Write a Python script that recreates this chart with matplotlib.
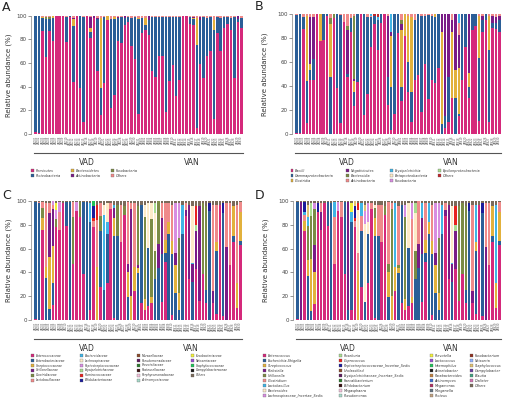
import numpy as np
import matplotlib
matplotlib.use("Agg")
import matplotlib.pyplot as plt
from matplotlib.patches import Rectangle

W, H = 507, 400

# samples
n_vad = 31
n_van = 30
samples = [f"VAD{i+1:02d}" for i in range(n_vad)] + [f"VAN{i+1:02d}" for i in range(n_van)]
N = len(samples)

# shared palette (legend order)
pal = ['#d5297b', '#2b5e97', '#e2b13c', '#7a1c86', '#7b8b45', '#ef8a8a', '#40b4e5',
       '#fdebc8', '#d88ee0', '#a9dc90', '#e8231f', '#1b1b9b', '#8b4a2b', '#5d1a5d',
       '#2d7a2d', '#3a1010', '#f1c0d8', '#a6d8c8', '#f3f03a', '#9a4ad0', '#21c25a',
       '#1a1a1a', '#c08040', '#3a6ad0', '#b03060', '#607080', '#c0a080', '#903020',
       '#8fb0ff', '#e0c070', '#6b3fa0', '#40a080', '#d070b0', '#7a6a5a']

# ---- Panel A: phylum ----
A_names = ["Firmicutes", "Proteobacteria", "Bacteroidetes", "Actinobacteria", "Fusobacteria", "Others"]
A_firm = [2, 1, 87, 65, 87, 79, 100, 100, 100, 78, 99, 44, 100, 39, 10, 100, 81, 98, 53, 16,
          43, 96, 22, 33, 79, 77, 92, 95, 74, 63, 17,
          85, 88, 84, 53, 48, 66, 66, 19, 45, 58, 32, 46, 100, 100, 93, 92, 5, 59, 47,
          66, 70, 13, 85, 70, 90, 93, 88, 47, 95, 90]
A_prot = [98, 99, 11, 32, 10, 19, 0, 0, 0, 21, 1, 47, 0, 61, 89, 0, 5, 0, 44, 23,
          56, 0, 75, 64, 19, 22, 6, 4, 24, 36, 80,
          13, 4, 12, 46, 51, 33, 33, 80, 54, 41, 67, 53, 0, 0, 6, 5, 70, 37, 52,
          32, 29, 75, 14, 28, 9, 6, 10, 52, 2, 8]
A_bact = [0, 0, 1, 0, 0, 2, 0, 0, 0, 0, 0, 6, 0, 0, 0, 0, 4, 0, 0, 59,
          0, 4, 0, 2, 0, 0, 0, 0, 0, 0, 1,
          0, 6, 0, 0, 0, 0, 0, 0, 0, 0, 0, 0, 0, 0, 0, 1, 23, 0, 0,
          0, 0, 8, 0, 0, 0, 0, 0, 0, 0, 0]
A_acti = [0, 0, 0, 0, 0, 0, 0, 0, 0, 0, 0, 1, 0, 0, 0, 0, 9, 2, 1, 0,
          0, 0, 0, 0, 1, 0, 2, 0, 0, 0, 0,
          0, 0, 4, 0, 0, 0, 0, 0, 0, 0, 0, 0, 0, 0, 0, 1, 0, 3, 0,
          0, 0, 0, 0, 0, 0, 0, 0, 0, 3, 0]
A_fuso = [0, 0, 0, 2, 2, 0, 0, 0, 0, 0, 0, 0, 0, 0, 0, 0, 0, 0, 0, 0,
          0, 0, 0, 0, 0, 0, 0, 0, 0, 0, 0,
          0, 0, 0, 0, 0, 0, 0, 0, 0, 0, 0, 0, 0, 0, 0, 0, 0, 0, 0,
          0, 0, 0, 0, 0, 0, 0, 0, 0, 0, 0]
A_oth = [0, 0, 1, 1, 1, 0, 0, 0, 0, 1, 0, 2, 0, 0, 1, 0, 1, 0, 2, 2,
         1, 0, 3, 1, 1, 1, 0, 1, 2, 1, 2,
         2, 2, 0, 1, 1, 1, 1, 1, 1, 1, 1, 1, 0, 0, 1, 1, 2, 1, 1,
         2, 1, 4, 1, 2, 1, 1, 2, 1, 0, 2]

# ---- Panel B: class ----
B_names = ["Bacilli", "Gammaproteobacteria", "Clostridia", "Negativicutes", "Bacteroidia",
           "Actinobacteria", "Erysipelotrichia", "Betaproteobacteria", "Fusobacteria",
           "Epsilonproteobacteria", "Others"]
B_bac = [1, 1, 87, 9, 45, 45, 100, 77, 78, 98, 0, 96, 38, 9, 93, 47, 85, 23, 43, 100,
         16, 33, 72, 91, 70, 92, 100, 24, 3, 17, 84,
         27, 81, 35, 10, 45, 49, 18, 58, 29, 45, 42, 55, 0, 5, 10, 30, 0, 15, 45,
         72, 30, 86, 90, 11, 85, 95, 10, 88, 87, 85]
B_gam = [98, 99, 10, 35, 8, 17, 0, 0, 22, 2, 47, 0, 62, 90, 0, 3, 11, 12, 57, 0,
         84, 64, 25, 7, 25, 8, 0, 23, 36, 83, 16,
         12, 0, 25, 25, 50, 51, 80, 40, 70, 53, 55, 45, 8, 10, 37, 0, 30, 2, 55,
         28, 9, 14, 10, 52, 10, 5, 60, 4, 5, 10]
B_clo = [0, 0, 0, 54, 5, 0, 0, 23, 0, 0, 44, 0, 0, 0, 0, 0, 0, 9, 0, 0,
         0, 0, 0, 0, 0, 0, 0, 0, 42, 0, 0,
         47, 19, 38, 62, 0, 0, 0, 0, 0, 0, 3, 0, 77, 0, 0, 55, 23, 38, 0,
         0, 12, 0, 0, 35, 0, 0, 28, 0, 0, 0]
B_neg = [0, 0, 0, 0, 39, 35, 0, 0, 0, 0, 0, 0, 0, 0, 0, 36, 0, 2, 0, 0,
         0, 0, 0, 0, 0, 0, 0, 51, 4, 0, 0,
         5, 0, 0, 0, 0, 0, 0, 0, 0, 0, 0, 0, 15, 85, 53, 10, 47, 27, 0,
         0, 49, 0, 0, 0, 3, 0, 0, 6, 5, 3]
B_bcd = [0, 0, 0, 0, 0, 0, 0, 0, 0, 0, 5, 4, 0, 0, 0, 4, 0, 52, 0, 0,
         0, 0, 0, 0, 0, 0, 0, 0, 0, 0, 0,
         4, 0, 0, 0, 0, 0, 0, 0, 0, 0, 0, 0, 0, 0, 0, 0, 0, 0, 0,
         0, 0, 0, 0, 0, 0, 0, 0, 0, 0, 0]
B_act = [1, 0, 3, 2, 3, 3, 0, 0, 0, 0, 4, 0, 0, 1, 7, 10, 4, 2, 0, 0,
         0, 3, 1, 0, 0, 0, 0, 2, 0, 0, 0,
         5, 0, 2, 3, 5, 0, 2, 2, 1, 2, 0, 0, 0, 0, 0, 5, 0, 10, 0,
         0, 0, 0, 0, 2, 2, 0, 2, 2, 3, 2]
B_ery = {23: 2, 25: 2, 29: 15, 49: 8}
B_oth = {24: 2, 25: 3}

# ---- Panel C: family (sample number -> %) ----
C_names = ["Enterococcaceae", "Enterobacteriaceae", "Streptococcaceae", "Veillonellaceae",
           "Clostridiaceae", "Lactobacillaceae", "Bacteroidaceae", "Lachnospiraceae",
           "Peptostreptococcaceae", "Erysipelotrichaceae", "Ruminococcaceae", "Bifidobacteriaceae",
           "Moraxellaceae", "Pseudomonadaceae", "Prevotellaceae", "Pasteurellaceae",
           "Porphyromonadaceae", "Actinomycetaceae", "Fusobacteriaceae", "Neisseriaceae",
           "Staphylococcaceae", "Campylobacteraceae", "Others"]
C_ent = {1: 1, 3: 75, 6: 13, 7: 76, 8: 75, 9: 94, 10: 78, 12: 47, 13: 91, 14: 86, 15: 38, 17: 8,
         18: 78, 20: 27, 22: 30, 23: 92, 24: 2, 26: 62, 27: 83, 30: 24, 32: 14, 33: 8, 34: 12,
         35: 14, 38: 15, 39: 47, 41: 4, 45: 85, 46: 33, 48: 40, 49: 15, 50: 38, 51: 13, 53: 14,
         54: 5, 55: 92, 56: 3, 58: 45, 59: 62, 60: 10, 61: 62}
C_enb = {1: 98, 2: 98, 4: 35, 5: 9, 6: 18, 10: 20, 11: 99, 15: 60, 16: 99, 17: 72, 20: 46,
         21: 24, 22: 40, 24: 66, 25: 67, 28: 19, 31: 36, 32: 80, 34: 48, 36: 34, 37: 44,
         38: 40, 39: 8, 40: 70, 41: 50, 42: 22, 43: 8, 44: 70, 47: 30, 51: 10, 52: 90, 54: 51,
         56: 85, 59: 4, 61: 4}
C_str = {3: 10, 4: 9, 5: 43, 6: 31, 19: 42, 24: 14, 28: 21, 29: 20, 30: 20, 31: 4, 33: 9,
         35: 5, 39: 10, 40: 10, 41: 10, 42: 23, 43: 14, 54: 7, 59: 24, 60: 20, 61: 24}
C_vei = {5: 37, 6: 31, 24: 8, 28: 7, 29: 72, 31: 2, 37: 20, 38: 30, 42: 10, 45: 5, 46: 60,
         47: 14, 48: 30, 49: 75, 53: 10, 57: 60}
C_clo = {3: 8, 7: 6, 12: 39, 14: 12, 20: 13, 25: 25, 27: 7, 31: 45, 33: 65, 35: 63, 36: 23,
         37: 36, 43: 45, 50: 58, 51: 65}
C_lac = {2: 1, 3: 5, 4: 53, 5: 8, 6: 4, 8: 15, 12: 12, 18: 5, 19: 38, 20: 10, 23: 5, 26: 30,
         28: 51, 29: 5, 30: 52, 38: 12, 39: 30, 40: 15, 41: 30, 45: 5, 53: 70, 54: 30, 57: 36,
         58: 50, 60: 64, 61: 8}
C_bcd = {17: 15, 21: 61, 22: 10, 24: 3, 44: 24, 47: 1}
C_lach = {21: 8, 22: 15, 33: 10, 34: 37, 35: 13, 36: 31, 47: 45}
C_pep = {6: 3, 7: 8, 8: 8, 13: 7, 42: 40, 43: 28}
C_ery = {36: 8, 48: 5}
C_rum = {18: 3, 19: 12, 48: 15}
C_bif = {18: 10, 52: 6, 56: 8}
C_fus = {7: 5}
C_sta = {18: 4}
C_oth = {1: 1, 2: 1, 3: 1, 4: 2, 5: 2, 7: 2, 8: 1, 9: 2, 10: 1, 11: 1, 12: 1, 13: 1, 14: 1,
         15: 1, 16: 1, 17: 2, 19: 3, 20: 2, 21: 3, 22: 2, 23: 2, 24: 3, 25: 3, 26: 3, 27: 4,
         28: 1, 29: 2, 30: 2, 31: 4, 32: 3, 33: 3, 34: 2, 35: 2, 36: 2, 38: 2, 39: 2, 40: 2,
         41: 3, 42: 2, 43: 2, 44: 3, 45: 2, 46: 3, 47: 4, 48: 4, 49: 4, 50: 2, 51: 4,
         52: 2, 53: 3, 54: 3, 55: 3, 56: 2, 57: 2, 58: 2, 59: 4, 60: 3, 61: 1}

# ---- Panel D: genus ----
D_names = ["Enterococcus", "Escherichia-Shigella", "Streptococcus", "Klebsiella", "Veillonella",
           "Clostridium", "Lactobacillus", "Bacteroides", "Lachnospiraceae_Incertae_Sedis",
           "Roseburia", "Coprococcus", "Peptostreptococcaceae_Incertae_Sedis", "Unclassified",
           "Erysipelotrichaceae_Incertae_Sedis", "Faecalibacterium", "Bifidobacterium",
           "Megasphaera", "Pseudomonas", "Prevotella", "Lactococcus", "Haemophilus",
           "Acinetobacter", "Parabacteroides", "Actinomyces", "Megamonas", "Morganella",
           "Proteus", "Fusobacterium", "Neisseria", "Staphylococcus", "Campylobacter",
           "Blautia", "Dialister", "Others"]
D_ent = {1: 1, 3: 74, 6: 13, 7: 90, 8: 75, 9: 94, 10: 78, 12: 47, 13: 91, 14: 86, 15: 38, 17: 8,
         18: 78, 20: 27, 22: 30, 23: 92, 24: 2, 26: 62, 27: 83, 30: 24, 32: 14, 33: 8, 34: 12,
         35: 14, 38: 15, 39: 47, 41: 4, 45: 85, 46: 33, 48: 40, 49: 15, 50: 38, 51: 13, 53: 14,
         54: 5, 55: 92, 56: 3, 58: 45, 59: 62, 60: 10, 61: 62}
D_esc = {1: 98, 4: 35, 5: 7, 10: 20, 11: 97, 15: 60, 16: 8, 17: 72, 20: 46, 21: 14, 22: 40,
         24: 66, 25: 67, 28: 19, 31: 36, 32: 80, 34: 48, 36: 34, 37: 44, 38: 40, 39: 8, 40: 70,
         41: 50, 42: 22, 43: 8, 44: 70, 47: 30, 51: 10, 52: 90, 54: 51, 56: 85, 59: 4, 61: 4}
D_str = {3: 8, 4: 13, 5: 43, 6: 27, 19: 40, 24: 14, 28: 21, 29: 20, 30: 20, 31: 4, 33: 9,
         35: 5, 39: 10, 40: 10, 41: 10, 42: 23, 43: 14, 54: 7, 59: 24, 60: 20, 61: 24}
D_kle = {2: 99, 6: 22, 8: 15, 16: 90, 37: 20, 38: 30, 42: 10, 45: 5, 46: 60, 47: 14, 48: 30,
         53: 10, 57: 60}
D_vei = {4: 27, 5: 35, 6: 30, 24: 8, 27: 7, 28: 7, 29: 72, 31: 2, 33: 65, 36: 23, 43: 45,
         49: 75, 50: 58, 51: 65}
D_clo = {3: 5, 8: 7, 12: 39, 14: 12, 18: 5, 19: 15, 20: 13, 23: 5, 25: 25, 26: 30, 28: 51,
         29: 5, 31: 45, 35: 63, 37: 36, 39: 30, 41: 30, 45: 5, 53: 70, 57: 36, 58: 50, 61: 8}
D_lac = {3: 3, 4: 7, 12: 12, 17: 8, 20: 10, 30: 52, 38: 12, 40: 15, 44: 24, 47: 1, 54: 30, 60: 64}
D_bac = {19: 35, 21: 61, 22: 10, 24: 3, 34: 37, 36: 31, 47: 45}
D_lis = {6: 5, 13: 7, 21: 10, 22: 15, 33: 10, 35: 13, 42: 40, 43: 28}
D_ros = {5: 10, 36: 8, 48: 5}
D_cop = {18: 3, 19: 5, 48: 15}
D_pis = {3: 8, 7: 7, 18: 10, 52: 6, 56: 8}
D_pre = {17: 7}
D_sta = {4: 10, 18: 4, 21: 5}
D_oth = {1: 1, 2: 1, 3: 1, 4: 3, 5: 2, 6: 2, 7: 2, 8: 2, 9: 2, 10: 1, 11: 2, 12: 1, 13: 1,
         14: 1, 15: 1, 16: 1, 17: 2, 19: 2, 20: 2, 21: 3, 22: 2, 23: 2, 24: 3, 25: 3, 26: 3,
         27: 4, 28: 1, 29: 2, 30: 2, 31: 4, 32: 3, 33: 3, 34: 2, 35: 2, 36: 2, 38: 2, 39: 2,
         40: 2, 41: 3, 42: 2, 43: 2, 44: 3, 45: 2, 46: 3, 47: 4, 48: 4, 49: 4, 50: 2,
         51: 4, 52: 2, 53: 3, 54: 3, 55: 3, 56: 2, 57: 2, 58: 2, 59: 4, 60: 3, 61: 1}


def full(s):
    '''sparse {sample number: value} -> list'''
    if isinstance(s, dict):
        return [s.get(i, 0) for i in range(1, N + 1)]
    return list(s)


fig = plt.figure(figsize=(W / 100, H / 100), dpi=100)


def axes_px(l, t, r, b):
    return fig.add_axes([l / W, 1 - b / H, (r - l) / W, (b - t) / H])


def draw_panel(ax, series, colors, ylab_x):
    vals = np.array([full(s) for s in series], dtype=float)
    vals = vals / vals.sum(axis=0) * 100  # relative abundance
    x = np.arange(N)
    bottom = np.zeros(N)
    for v, c in zip(vals, colors):
        ax.bar(x, v, bottom=bottom.copy(), width=0.72, color=c, linewidth=0)
        bottom = bottom + v
    ax.set_xlim(-0.5, N - 0.5)
    ax.set_ylim(0, 100)
    ax.set_yticks([0, 20, 40, 60, 80, 100])
    ax.tick_params(axis="y", labelsize=4, length=2, width=0.4, pad=1, colors="#444444")
    ax.set_xticks(x)
    ax.set_xticklabels(samples, rotation=90, fontsize=1.8, color="#555555")
    ax.tick_params(axis="x", length=0, pad=1.5)
    for s in ["top", "right", "bottom"]:
        ax.spines[s].set_visible(False)
    ax.spines["left"].set_position(("outward", 2))
    ax.spines["left"].set_linewidth(0.4)
    ax.spines["left"].set_color("#666666")
    ax.set_ylabel("Relative abundance (%)", fontsize=5, color="#333333")
    ax.yaxis.set_label_coords(ylab_x, 0.5)
    # group bars
    tr = ax.get_xaxis_transform()
    for lo, hi, lab in [(-0.4, n_vad - 0.7, "VAD"), (n_vad - 0.3, N - 0.6, "VAN")]:
        ax.plot([lo, hi], [-0.16, -0.16], transform=tr, color="#555555", lw=0.8, clip_on=False)
        ax.text((lo + hi) / 2, -0.2, lab, transform=tr, ha="center", va="top", fontsize=5.5,
                color="#333333")


def draw_legend(names, colors, cols_x, y0, dy, nrows, fs):
    for k, (nm, c) in enumerate(zip(names, colors)):
        col, row = divmod(k, nrows)
        x = cols_x[col]
        y = y0 + row * dy
        fig.patches.append(Rectangle((x / W, 1 - (y + 1.3) / H), 2.6 / W, 2.6 / H,
                                     transform=fig.transFigure, facecolor=c,
                                     edgecolor="#555555", linewidth=0.2))
        fig.text((x + 4.5) / W, 1 - y / H, nm, fontsize=fs, style="italic", va="center",
                 ha="left", color="#333333")


# A
axA = axes_px(34, 15.7, 243, 134)
draw_panel(axA, [A_firm, A_prot, A_bact, A_acti, A_fuso, A_oth], pal[:6], -0.107)
draw_legend(A_names, pal[:6], [31, 71, 111], 170.7, 5, 2, 2.4)

# B
axB = axes_px(295, 13.5, 501, 134)
B_cols = pal[:10] + ['#c0282d']
draw_panel(axB, [B_bac, B_gam, B_clo, B_neg, B_bcd, B_act, B_ery, {}, {}, {}, B_oth],
           B_cols, -0.131)
draw_legend(B_names, B_cols, [290.7, 346, 390, 438], 170.7, 5, 3, 2.4)

# C
axC = axes_px(34, 201, 242, 320)
C_cols = pal[:22] + ['#7a6a5a']
draw_panel(axC, [C_ent, C_enb, C_str, C_vei, C_clo, C_lac, C_bcd, C_lach, C_pep, C_ery, C_rum,
                 C_bif, {}, {}, {}, {}, {}, {}, C_fus, {}, C_sta, {}, C_oth], C_cols, -0.107)
draw_legend(C_names, C_cols, [31, 80, 137, 191], 355.7, 4.9, 6, 2.2)

# D
axD = axes_px(296, 201, 501, 320)
D_cols = pal[:34]
D_series = [D_ent, D_esc, D_str, D_kle, D_vei, D_clo, D_lac, D_bac, D_lis, D_ros, D_cop, D_pis,
            {}, {}, {}, {}, {}, {}, D_pre, {}, {}, {}, {}, {}, {}, {}, {}, {}, {}, D_sta, {},
            {}, {}, D_oth]
draw_panel(axD, D_series, D_cols, -0.131)
draw_legend(D_names, D_cols, [263, 339, 430, 470], 355.7, 5, 9, 2.4)

# panel letters
for lx, ly, lab in [(2, 1, "A"), (255, 0, "B"), (2, 189, "C"), (255, 189, "D")]:
    fig.text(lx / W, 1 - ly / H, lab, fontsize=9, va="top", ha="left", color="#222222")

fig.savefig("out.png", dpi=100)
